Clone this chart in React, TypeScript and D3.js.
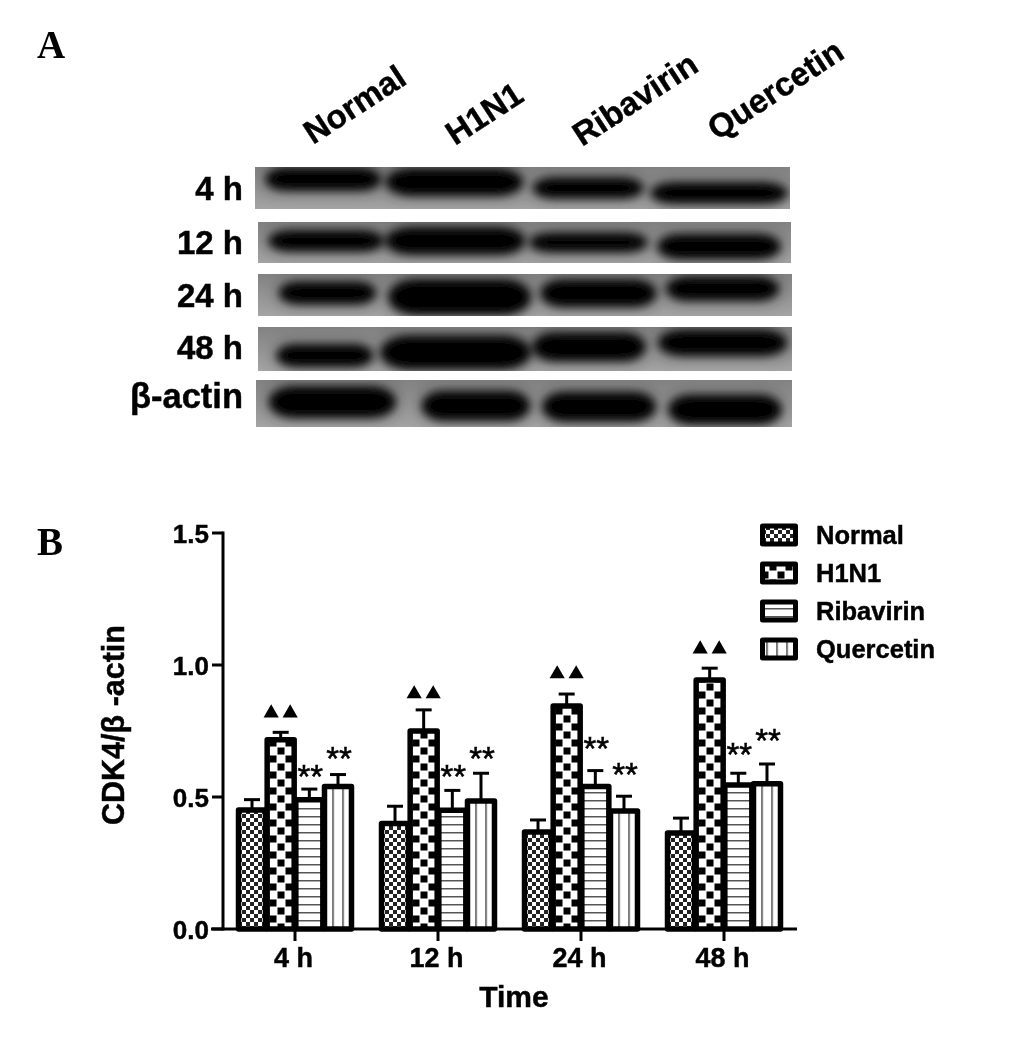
import React from "react";
import * as d3 from "d3";

const times = ["4 h", "12 h", "24 h", "48 h"];
const treatments = ["Normal", "H1N1", "Ribavirin", "Quercetin"];
const normalVals = [0.451, 0.4, 0.367, 0.364];
const h1n1Vals = [0.717, 0.75, 0.845, 0.943];
const ribaVals = [0.49, 0.45, 0.54, 0.545];
const querVals = [0.54, 0.485, 0.447, 0.55];
const normalTop = [0.49, 0.465, 0.413, 0.42];
const h1n1Top = [0.745, 0.83, 0.89, 0.988];
const ribaTop = [0.53, 0.525, 0.6, 0.59];
const querTop = [0.585, 0.59, 0.503, 0.625];
const ribaStar = [0.59, 0.59, 0.697, 0.674];
const querStar = [0.659, 0.659, 0.598, 0.727];
const triangleMark = [0.822, 0.894, 0.97, 1.064];
const yTicks = [0, 0.5, 1, 1.5];
const blotRows = ["4 h", "12 h", "24 h", "48 h", "β-actin"];
// band: start, end along the membrane (0-100), centre (0-100 of strip), thickness (0-100 of strip)
const band4h = [[2, 23.5, 29, 52], [24.5, 50, 36, 62], [52, 72.5, 50, 46], [74, 99.5, 62, 48]];
const band12h = [[2, 23.5, 46, 48], [24, 50, 46, 64], [51, 73, 50, 44], [75, 98, 60, 58]];
const band24h = [[4, 22, 45, 50], [24.5, 51, 55, 82], [53, 74.5, 46, 62], [76.5, 97.5, 35, 54]];
const band48h = [[3.5, 21.5, 65, 48], [23, 51, 58, 74], [51.5, 72.5, 45, 62], [75, 99, 36, 56]];
const bandActin = [[2.5, 26, 47, 64], [31, 51, 55, 60], [53.5, 74.5, 57, 60], [77, 98, 63, 60]];
const blotBands = [band4h, band12h, band24h, band48h, bandActin];

const seriesVals = [normalVals, h1n1Vals, ribaVals, querVals];
const seriesTop = [normalTop, h1n1Top, ribaTop, querTop];
const patternIds = ["pNormal", "pH1N1", "pRiba", "pQuer"];
const FONT = "'Liberation Sans', Arial, sans-serif";
const BOLD_STROKE = { stroke: "#000", strokeWidth: 0.45 };

const stripLayout = [
  { x0: 255, x1: 790, y0: 167, y1: 209, base: 200 },
  { x0: 258, x1: 791, y0: 222, y1: 263, base: 254 },
  { x0: 258, x1: 792, y0: 274, y1: 316, base: 307 },
  { x0: 258, x1: 792, y0: 327, y1: 371, base: 359 },
  { x0: 256, x1: 792, y0: 380, y1: 427, base: 408 },
];
const headPos = [[313, 145], [455, 146], [582, 147], [717, 141]];

export default function App() {
  const y = d3.scaleLinear().domain([0, 1.5]).range([929, 533]);
  const x0 = d3.scaleBand().domain(times).range([223.5, 795.5]).paddingInner(0.175).paddingOuter(0.0875);
  const x1 = d3.scalePoint().domain(treatments).range([16, x0.bandwidth() - 16]);
  const tri = d3.symbol().type(d3.symbolTriangle).size(100)() as string;
  const legendY = d3.scaleLinear().domain([0, 3]).range([524, 638]);

  return (
    <svg width={1033} height={1040} style={{ position: "absolute", left: 0, top: 0, background: "#fff" }} fontFamily={FONT}>
      <defs>
        <filter id="soft" x="0" y="0" width="100%" height="100%">
          <feGaussianBlur stdDeviation="0.45" />
        </filter>
        <filter id="blur" x="-20%" y="-80%" width="140%" height="260%">
          <feGaussianBlur stdDeviation="4.6" />
        </filter>
        <filter id="halo" x="-20%" y="-120%" width="140%" height="340%">
          <feGaussianBlur stdDeviation="8" />
        </filter>
        <linearGradient id="stripFill" x1="0" x2="0" y1="0" y2="1">
          <stop offset="0" stopColor="#828282" />
          <stop offset="1" stopColor="#a4a4a4" />
        </linearGradient>
        <pattern id="pNormal" width={8} height={8} patternUnits="userSpaceOnUse" x={2} y={2}>
          <rect width={8} height={8} fill="#fff" />
          <rect width={4} height={4} fill="#222" />
          <rect x={4} y={4} width={4} height={4} fill="#222" />
        </pattern>
        <pattern id="pH1N1" width={16} height={16} patternUnits="userSpaceOnUse" x={1} y={3}>
          <rect width={16} height={16} fill="#fff" />
          <rect x={0.5} y={0.5} width={7} height={7} fill="#000" />
          <rect x={8.5} y={8.5} width={7} height={7} fill="#000" />
        </pattern>
        <pattern id="pRiba" width={8} height={8} patternUnits="userSpaceOnUse">
          <rect width={8} height={8} fill="#fff" />
          <rect width={8} height={1.5} fill="#555" />
        </pattern>
        <pattern id="pQuer" width={10} height={8} patternUnits="userSpaceOnUse" x={6.2}>
          <rect width={10} height={8} fill="#fff" />
          <rect width={1.6} height={8} fill="#555" />
        </pattern>
        {stripLayout.map((s, i) => (
          <clipPath id={`strip${i}`} key={i}>
            <rect x={s.x0} y={s.y0} width={s.x1 - s.x0} height={s.y1 - s.y0} />
          </clipPath>
        ))}
      </defs>

      <g filter="url(#soft)">
        <text x={37} y={58} fontFamily="'Liberation Serif', serif" fontWeight="bold" fontSize={39}>A</text>
        <text x={37} y={555} fontFamily="'Liberation Serif', serif" fontWeight="bold" fontSize={39}>B</text>

        {/* column labels */}
        {treatments.map((t, i) => (
          <text key={t} transform={`translate(${headPos[i][0]},${headPos[i][1]}) rotate(-33)`} fontWeight="bold" fontSize={33} {...BOLD_STROKE}>{t}</text>
        ))}

        {/* blots */}
        {blotRows.map((r, i) => {
          const s = stripLayout[i];
          const bx = d3.scaleLinear().domain([0, 100]).range([s.x0, s.x1]);
          const by = d3.scaleLinear().domain([0, 100]).range([s.y0, s.y1]);
          const h = s.y1 - s.y0;
          return (
            <g key={r}>
              <text x={243} y={s.base} textAnchor="end" fontWeight="bold" fontSize={i === 4 ? 34.5 : 33} {...BOLD_STROKE}>{r}</text>
              <rect x={s.x0} y={s.y0} width={s.x1 - s.x0} height={h} fill="url(#stripFill)" />
              <g clipPath={`url(#strip${i})`}>
                <g filter="url(#halo)" opacity={0.5}>
                  {blotBands[i].map((b, j) => {
                    const ht = (b[3] / 100) * h;
                    return <rect key={j} x={bx(b[0])} width={bx(b[1]) - bx(b[0])} y={by(b[2]) - ht / 2} height={ht} rx={ht / 2} fill="#222" />;
                  })}
                </g>
                <g filter="url(#blur)">
                  {blotBands[i].map((b, j) => {
                    const ht = (b[3] / 100) * h;
                    const w = bx(b[1]) - bx(b[0]);
                    return <rect key={j} x={bx(b[0])} width={w} y={by(b[2]) - ht / 2} height={ht} rx={w * 0.2} ry={ht / 2} fill="#050505" />;
                  })}
                </g>
              </g>
            </g>
          );
        })}

        {/* bars */}
        {times.map((t, g) => (
          <g key={t} transform={`translate(${x0(t)},0)`}>
            {treatments.map((s, k) => {
              const cx = x1(s) as number;
              return (
                <g key={s}>
                  <line x1={cx} x2={cx} y1={y(seriesVals[k][g])} y2={y(seriesTop[k][g])} stroke="#000" strokeWidth={3} />
                  <line x1={cx - 8} x2={cx + 8} y1={y(seriesTop[k][g])} y2={y(seriesTop[k][g])} stroke="#000" strokeWidth={3} />
                  <rect x={cx - 13.5} width={27} y={y(seriesVals[k][g])} height={y(0) - y(seriesVals[k][g])} fill={`url(#${patternIds[k]})`} stroke="#000" strokeWidth={5.5} strokeLinejoin="round" />
                  {k >= 2 && (
                    <text x={cx + 1} y={y((k === 2 ? ribaStar : querStar)[g]) + 15} textAnchor="middle" fontSize={33} stroke="#000" strokeWidth={0.5}>**</text>
                  )}
                  {k === 1 && (
                    <g>
                      <path d={tri} transform={`translate(${cx - 9.5},${y(triangleMark[g]) + 1})`} fill="#000" />
                      <path d={tri} transform={`translate(${cx + 9.5},${y(triangleMark[g]) + 1})`} fill="#000" />
                    </g>
                  )}
                </g>
              );
            })}
            <line x1={x0.bandwidth() / 2} x2={x0.bandwidth() / 2} y1={929} y2={941} stroke="#000" strokeWidth={3} />
            <text x={x0.bandwidth() / 2 - 1.5} y={967} textAnchor="middle" fontWeight="bold" fontSize={27} {...BOLD_STROKE}>{t}</text>
          </g>
        ))}

        {/* axes */}
        <line x1={223} x2={223} y1={y(1.5) - 1.5} y2={y(0) + 1.5} stroke="#000" strokeWidth={3} />
        <line x1={211} x2={797} y1={y(0)} y2={y(0)} stroke="#000" strokeWidth={3} />
        {yTicks.map((v) => (
          <g key={v}>
            <line x1={212} x2={223} y1={y(v)} y2={y(v)} stroke="#000" strokeWidth={3} />
            <text x={209} y={y(v) + 9.5} textAnchor="end" fontWeight="bold" fontSize={26} {...BOLD_STROKE}>{d3.format(".1f")(v)}</text>
          </g>
        ))}
        <text transform="translate(124,725) rotate(-90)" textAnchor="middle" fontWeight="bold" fontSize={30.5} {...BOLD_STROKE}>CDK4/β -actin</text>
        <text x={514} y={1007} textAnchor="middle" fontWeight="bold" fontSize={30} {...BOLD_STROKE}>Time</text>

        {/* legend */}
        {treatments.map((t, i) => {
          const ly = legendY(i);
          return (
            <g key={t}>
              <rect x={762.5} y={ly + 2} width={33} height={18} fill={`url(#${patternIds[i]})`} stroke="#000" strokeWidth={5} strokeLinejoin="round" />
              <text x={816} y={ly + 19.5} fontWeight="bold" fontSize={25.5} {...BOLD_STROKE}>{t}</text>
            </g>
          );
        })}
      </g>
    </svg>
  );
}
